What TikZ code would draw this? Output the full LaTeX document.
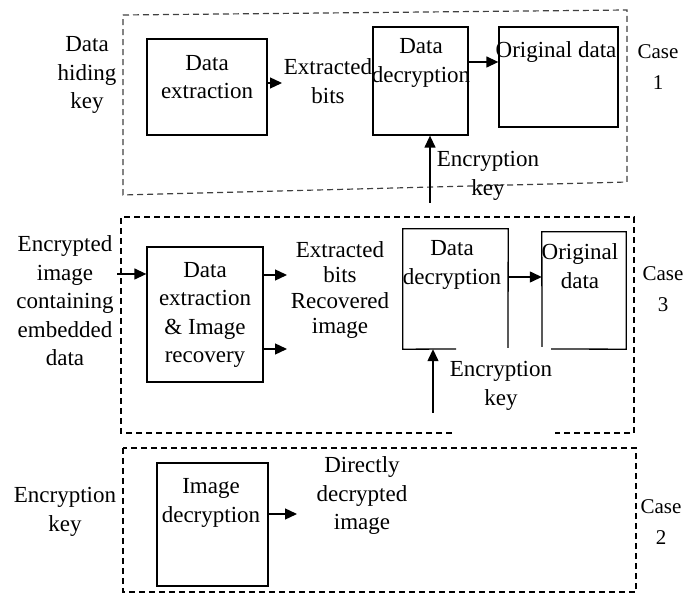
\documentclass[tikz,border=0pt]{standalone}
\usepackage{fontspec}
\setmainfont{Liberation Serif}
\usetikzlibrary{arrows.meta}
\begin{document}
\begin{tikzpicture}[x=1pt,y=-1pt,
  txt/.style={align=center,inner sep=0pt,font=\fontsize{23}{28.5}\selectfont},
  casetxt/.style={align=center,inner sep=0pt,font=\fontsize{21}{31}\selectfont},
  boxn/.style={draw,line width=1.3pt,inner sep=0pt},
  ghost/.style={inner sep=0pt},
  frame/.style={line width=1.2pt,dash pattern=on 6pt off 4pt},
  arr/.style={line width=1.3pt,-{Triangle[length=12pt,width=11pt]}}]
\useasboundingbox (0,0) rectangle (699,593);

% ---------------- Case 1 ----------------
\draw[frame,black!75] (123,15) -- (627,10) -- (627,182) -- (123,195) -- cycle;
\node[boxn,minimum width=120pt,minimum height=96pt] (de1) at (207,87) {};
\node[txt] (de1t) at (207,77) {Data\\extraction};
\node[boxn,minimum width=95pt,minimum height=108pt] (dd1) at (420.5,81) {};
\node[txt] (dd1t) at (421,63) {Data\\decryption};
\node[boxn,minimum width=119pt,minimum height=100pt] (od1) at (558.5,77) {};
\node[txt] (od1t) at (556,52) {Original data};
\node[txt] (eb1) at (328,81) {Extracted\\bits};
\node[txt] (dhk) at (87,75) {Data\\hiding\\key};
\node[casetxt] (c1) at (658,67) {Case\\1};
\node[txt] (ek1) at (488,176) {Encryption\\key};
\coordinate (k1) at (430,203);
\coordinate (eb1in) at (282,83);
\draw[arr] (de1.east |- eb1in) -- (eb1in);
\draw[arr] (dd1.east |- 0,62) -- (od1.west |- 0,62);
\draw[arr] (k1) -- (k1 |- dd1.south);

% ---------------- Case 3 ----------------
\draw[frame] (452,433) -- (121,433) -- (121,217) -- (634,217) -- (634,433) -- (555,433);
\node[boxn,minimum width=116pt,minimum height=135pt] (der) at (205,314.5) {};
\node[txt] (dert) at (205,315) {Data\\extraction\\\& Image\\recovery};
\node[ghost,minimum width=105pt,minimum height=120pt] (dd3) at (455.5,289) {};
\draw[line width=1.3pt] (456,349) -- (dd3.south west) -- (dd3.north west) -- (dd3.north east) -- (508,348);
\node[txt] (dd3t) at (452,265) {Data\\decryption};
\node[ghost,minimum width=84pt,minimum height=117pt] (od3) at (584,290.5) {};
\draw[line width=1.3pt] (542,347) -- (od3.north west) -- (od3.north east) -- (od3.south east) -- (551,349);
\node[txt] (od3t) at (580,266) {Original\\data};
\node[txt,font=\fontsize{23}{25.5}\selectfont] (ebri) at (340,290) {Extracted\\bits\\Recovered\\image};
\node[txt] (eied) at (65,301) {Encrypted\\image\\containing\\embedded\\data};
\node[casetxt] (c3) at (663,289) {Case\\3};
\node[txt] (ek3) at (501,386) {Encryption\\key};
\coordinate (in3) at (117,274);
\coordinate (o3a) at (287,275);
\coordinate (o3b) at (287,349);
\coordinate (k3) at (433,413);
\draw[arr] (in3) -- (der.west |- in3);
\draw[arr] (der.east |- o3a) -- (o3a);
\draw[arr] (der.east |- o3b) -- (o3b);
\draw[arr] (dd3.east |- 0,277) -- (od3.west |- 0,277);
\draw[arr] (k3) -- (k3 |- dd3.south);

% ---------------- Case 2 ----------------
\draw[frame] (123,448) rectangle (636,592);
\node[boxn,minimum width=111pt,minimum height=123pt] (id) at (212.5,524.5) {};
\node[txt] (idt) at (211,503) {Image\\decryption};
\node[txt] (ddi) at (362,496) {Directly\\decrypted\\image};
\node[txt] (ek2) at (65,512) {Encryption\\key};
\node[casetxt] (c2) at (661,522) {Case\\2};
\coordinate (o2) at (297,514);
\draw[arr] (id.east |- o2) -- (o2);
\end{tikzpicture}
\end{document}
